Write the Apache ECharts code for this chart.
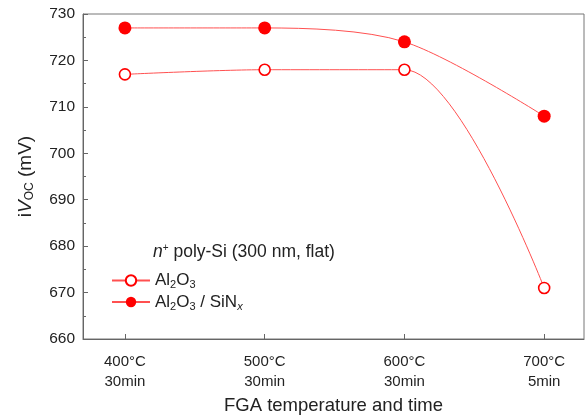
<!DOCTYPE html>
<html>
<head>
<meta charset="utf-8">
<script src="https://cdn.jsdelivr.net/npm/echarts@6/dist/echarts.min.js"></script>
<style>
  html, body { margin: 0; padding: 0; background: #fff; }
  #chart { width: 586px; height: 415px; }
</style>
</head>
<body>
<div id="chart"></div>
<script>
// x positions are category indices 0..3
const temps = ['400', '500', '600', '700']
const times = ['30min', '30min', '30min', '5min']
const al2o3 = [717, 718, 718, 671]
const al2o3SiNx = [727, 727, 724, 708]
const yTicks = [660, 670, 680, 690, 700, 710, 720, 730]

const font = 'Liberation Sans, Arial, sans-serif'
const red = '#ff0000'

const chart = echarts.init(document.getElementById('chart'))

chart.setOption({
  animation: false,
  textStyle: { fontFamily: font },
  grid: {
    left: 83,
    right: 2,
    top: 14,
    bottom: 76,
    outerBoundsMode: 'none',
    show: true,
    borderColor: '#777',
    borderWidth: 1
  },
  graphic: [{
    type: 'text',
    left: 153,
    top: 243,
    style: {
      text: '{i|n}{sup|+} poly-Si (300 nm, flat)',
      fontFamily: font,
      fontSize: 17.5,
      fill: '#222',
      rich: {
        i: { fontStyle: 'italic', fontSize: 17.5, fontFamily: font, fill: '#222' },
        sup: { fontSize: 10, verticalAlign: 'top', padding: [0, 0, 9, 0], fontFamily: font, fill: '#222' }
      }
    }
  }],
  legend: {
    orient: 'vertical',
    left: 106,
    top: 267,
    itemWidth: 38,
    itemHeight: 13,
    itemGap: 3,
    textStyle: {
      fontSize: 17,
      color: '#222',
      fontFamily: font,
      rich: {
        sub: { fontSize: 11, verticalAlign: 'bottom', padding: [9, 0, 0, 0], color: '#222', fontFamily: font },
        subi: { fontSize: 11, fontStyle: 'italic', verticalAlign: 'bottom', padding: [9, 0, 0, 0], color: '#222', fontFamily: font }
      }
    },
    formatter: function (name) {
      if (name === 'Al2O3') return 'Al{sub|2}O{sub|3}'
      return 'Al{sub|2}O{sub|3} / SiN{subi|x}'
    },
    data: ['Al2O3', 'Al2O3/SiNx']
  },
  xAxis: {
    type: 'value',
    min: -0.3,
    max: 3.285,
    name: 'FGA temperature and time',
    nameLocation: 'middle',
    nameGap: 55,
    nameTextStyle: { fontSize: 18.5, color: '#222', fontFamily: font },
    axisLine: { onZero: false, lineStyle: { color: '#666' } },
    axisTick: {
      inside: true,
      length: 5,
      customValues: [0, 1, 2, 3],
      lineStyle: { color: '#666' }
    },
    splitLine: { show: false },
    axisLabel: {
      customValues: [0, 1, 2, 3],
      margin: 13,
      fontSize: 15,
      color: '#222',
      lineHeight: 20,
      formatter: function (v) {
        const i = Math.round(v)
        return temps[i] + '°C\n' + times[i]
      }
    }
  },
  yAxis: {
    type: 'value',
    min: 660,
    max: 730,
    interval: 10,
    name: '{n|i}{v|V}{sub|OC}{n| (mV)}',
    nameLocation: 'middle',
    nameGap: 47,
    nameTextStyle: {
      fontSize: 19,
      color: '#222',
      fontFamily: font,
      rich: {
        n: { fontSize: 19, color: '#222', fontFamily: font },
        v: { fontSize: 19, fontStyle: 'italic', color: '#222', fontFamily: font },
        sub: { fontSize: 12, verticalAlign: 'bottom', padding: [9, 0, 0, 0], color: '#222', fontFamily: font }
      }
    },
    axisLine: { show: true, onZero: false, lineStyle: { color: '#666' } },
    axisTick: { inside: true, length: 5, lineStyle: { color: '#666' } },
    minorTick: { show: true, splitNumber: 2, length: 3, lineStyle: { color: '#666' } },
    splitLine: { show: false },
    axisLabel: {
      fontSize: 15.5,
      color: '#222',
      margin: 8,
      customValues: yTicks
    }
  },
  series: [
    {
      name: 'Al2O3',
      type: 'line',
      smooth: 0.3,
      data: al2o3.map((v, i) => [i, v]),
      symbol: 'circle',
      symbolSize: 11,
      itemStyle: { color: '#fff', borderColor: red, borderWidth: 1.6 },
      lineStyle: { color: '#ff5050', width: 1 }
    },
    {
      name: 'Al2O3/SiNx',
      type: 'line',
      smooth: 0.3,
      data: al2o3SiNx.map((v, i) => [i, v]),
      symbol: 'circle',
      symbolSize: 13,
      itemStyle: { color: red, borderColor: red, borderWidth: 0 },
      lineStyle: { color: '#ff5050', width: 1 }
    }
  ]
})
</script>
</body>
</html>
